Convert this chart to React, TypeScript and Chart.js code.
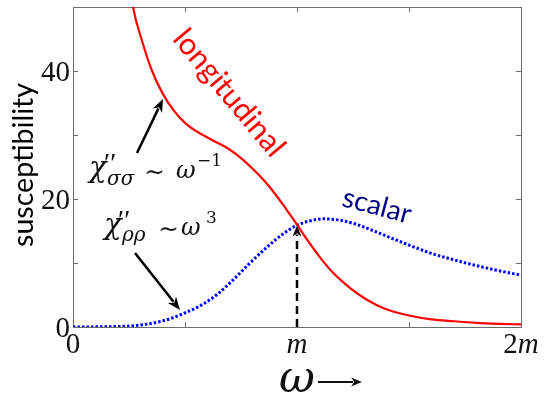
import React, { useEffect, useRef } from "react";
import { Chart, registerables } from "chart.js";
Chart.register(...registerables);

// ---- data (ω in units of m) ----
const longOmega = [0.22, 0.268, 0.31, 0.353, 0.4, 0.45, 0.5, 0.55, 0.6, 0.65, 0.7, 0.75, 0.8, 0.85, 0.9, 0.95, 1.0, 1.05, 1.1, 1.16, 1.24, 1.31, 1.39, 1.5, 1.6, 1.7, 1.8, 1.9, 2.0];
const longValues = [62, 50, 44.5, 40, 36.5, 33.8, 31.9, 30.6, 29.6, 28.7, 27.7, 26.4, 24.8, 23.0, 20.9, 18.5, 16.0, 13.4, 11.0, 8.5, 6.0, 4.3, 2.9, 1.8, 1.2, 0.9, 0.65, 0.5, 0.4];

const scalarOmega = [0, 0.1, 0.2, 0.27, 0.33, 0.4, 0.45, 0.5, 0.567, 0.64, 0.71, 0.79, 0.87, 0.94, 1.0, 1.06, 1.12, 1.19, 1.25, 1.3, 1.4, 1.5, 1.6, 1.7, 1.8, 1.9, 2.0];
const scalarValues = [0, 0.02, 0.08, 0.2, 0.45, 0.95, 1.5, 2.2, 3.3, 5.0, 7.2, 10.0, 12.6, 14.6, 15.9, 16.6, 16.9, 16.7, 16.2, 15.6, 14.2, 12.8, 11.5, 10.5, 9.6, 8.8, 8.1];

const xTickValues = [0, 0.5, 1, 1.5, 2];
const xTickLabels = ["0", "", "m", "", "2m"];
const yTickValues = [0, 10, 20, 30, 40, 50];
const yTickLabels = ["0", "", "20", "", "40", ""];
const crossingOmega = 1.0;
const crossingValue = 16.0;

const SERIF = '"Liberation Serif", "DejaVu Serif", serif';
const GREEK = '"DejaVu Serif", serif';
const SANS = 'Lato, "Open Sans", sans-serif';

function arrow(ctx: CanvasRenderingContext2D, x1: number, y1: number, x2: number, y2: number, w: number, head: number, color: string, dash?: number[]) {
  const a = Math.atan2(y2 - y1, x2 - x1);
  ctx.save();
  ctx.strokeStyle = color;
  ctx.fillStyle = color;
  ctx.lineWidth = w;
  if (dash) ctx.setLineDash(dash);
  ctx.beginPath();
  ctx.moveTo(x1, y1);
  ctx.lineTo(x2 - Math.cos(a) * head * 0.8, y2 - Math.sin(a) * head * 0.8);
  ctx.stroke();
  ctx.setLineDash([]);
  ctx.beginPath();
  ctx.moveTo(x2, y2);
  ctx.lineTo(x2 - Math.cos(a) * head + Math.sin(a) * head * 0.4, y2 - Math.sin(a) * head - Math.cos(a) * head * 0.4);
  ctx.lineTo(x2 - Math.cos(a) * head * 0.7, y2 - Math.sin(a) * head * 0.7);
  ctx.lineTo(x2 - Math.cos(a) * head - Math.sin(a) * head * 0.4, y2 - Math.sin(a) * head + Math.cos(a) * head * 0.4);
  ctx.closePath();
  ctx.fill();
  ctx.restore();
}

function txt(ctx: CanvasRenderingContext2D, s: string, x: number, y: number, size: number, italic: boolean, align: CanvasTextAlign = "left", family: string = SERIF) {
  ctx.font = `${italic ? "italic " : ""}${size}px ${family}`;
  ctx.textAlign = align;
  ctx.textBaseline = "alphabetic";
  ctx.fillText(s, x, y);
}

function fittedSans(ctx: CanvasRenderingContext2D, s: string, width: number) {
  ctx.font = `100px ${SANS}`;
  const w = ctx.measureText(s).width;
  const size = (100 * width) / w;
  ctx.font = `${size}px ${SANS}`;
}

const decorPlugin = {
  id: "decor",
  beforeDatasetsDraw(chart: any) {
    const { ctx, chartArea: a } = chart;
    const xs = chart.scales.x;
    const ys = chart.scales.y;
    ctx.save();
    ctx.strokeStyle = "#6b6b6b";
    ctx.lineWidth = 1;
    ctx.strokeRect(Math.round(a.left) + 0.5, Math.round(a.top) + 0.5, Math.round(a.right - a.left), Math.round(a.bottom - a.top));
    ctx.beginPath();
    const tl = 5;
    xTickValues.forEach((v) => {
      const px = Math.round(xs.getPixelForValue(v)) + 0.5;
      ctx.moveTo(px, a.bottom);
      ctx.lineTo(px, a.bottom - tl);
      ctx.moveTo(px, a.top);
      ctx.lineTo(px, a.top + tl);
    });
    yTickValues.forEach((v) => {
      const py = Math.round(ys.getPixelForValue(v)) + 0.5;
      ctx.moveTo(a.left, py);
      ctx.lineTo(a.left + tl, py);
      ctx.moveTo(a.right, py);
      ctx.lineTo(a.right - tl, py);
    });
    ctx.stroke();
    ctx.restore();
  },
  afterDatasetsDraw(chart: any) {
    const { ctx, chartArea: a } = chart;
    const xs = chart.scales.x;
    const ys = chart.scales.y;
    ctx.save();
    ctx.fillStyle = "#111";
    // y tick labels
    yTickValues.forEach((v, i) => {
      if (!yTickLabels[i]) return;
      txt(ctx, yTickLabels[i], a.left - 3, ys.getPixelForValue(v) + 10, 29, false, "right");
    });
    // x tick labels
    xTickValues.forEach((v, i) => {
      const lab = xTickLabels[i];
      if (!lab) return;
      const cx = xs.getPixelForValue(v);
      const by = a.bottom + 26;
      if (lab === "m") {
        txt(ctx, "m", cx, by, 29, true, "center");
      } else if (lab === "2m") {
        ctx.font = `29px ${SERIF}`;
        const w2 = ctx.measureText("2").width;
        ctx.font = `italic 29px ${SERIF}`;
        const wm = ctx.measureText("m").width;
        const start = cx - (w2 + wm) / 2;
        txt(ctx, "2", start, by, 29, false);
        txt(ctx, "m", start + w2, by, 29, true);
      } else {
        txt(ctx, lab, cx, by, 29, false, "center");
      }
    });
    // x axis title ω →
    txt(ctx, "ω", 279, 392, 44, true, "left", GREEK);
    arrow(ctx, 318, 382, 362, 382, 2, 11, "#111");
    // y axis title
    ctx.save();
    ctx.translate(33, 165);
    ctx.rotate(-Math.PI / 2);
    fittedSans(ctx, "susceptibility", 164);
    ctx.textAlign = "center";
    ctx.textBaseline = "alphabetic";
    ctx.fillStyle = "#000";
    ctx.fillText("susceptibility", 0, 0);
    ctx.restore();
    // series labels
    ctx.save();
    ctx.translate(229, 93);
    ctx.rotate((50 * Math.PI) / 180);
    fittedSans(ctx, "longitudinal", 156);
    ctx.textAlign = "center";
    ctx.textBaseline = "middle";
    ctx.fillStyle = "#ff0000";
    ctx.fillText("longitudinal", 0, 0);
    ctx.restore();
    ctx.save();
    ctx.translate(377, 206);
    ctx.rotate((15 * Math.PI) / 180);
    fittedSans(ctx, "scalar", 70);
    ctx.textAlign = "center";
    ctx.textBaseline = "middle";
    ctx.fillStyle = "#000080";
    ctx.fillText("scalar", 0, 0);
    ctx.restore();
    // formulas
    ctx.fillStyle = "#111";
    txt(ctx, "χ", 89, 177, 29, true, "left", GREEK);
    txt(ctx, "′′", 104, 172, 28, false, "left", SERIF);
    txt(ctx, "σσ", 107, 185, 20, true, "left", GREEK);
    txt(ctx, "∼", 144, 180, 25, false, "left", GREEK);
    txt(ctx, "ω", 176, 178, 24, true, "left", GREEK);
    txt(ctx, "−1", 197, 166, 17, false, "left", GREEK);

    txt(ctx, "χ", 104, 234, 29, true, "left", GREEK);
    txt(ctx, "′′", 118, 229, 28, false, "left", SERIF);
    txt(ctx, "ρρ", 122, 241, 20, true, "left", GREEK);
    txt(ctx, "∼", 158, 237, 25, false, "left", GREEK);
    txt(ctx, "ω", 181, 235, 24, true, "left", GREEK);
    txt(ctx, "3", 206, 223, 17, false, "left", GREEK);
    // arrows
    arrow(ctx, 137, 153, 163, 99, 2.5, 13, "#000");
    arrow(ctx, 135, 253, 180, 310, 2.5, 13, "#000");
    // dashed arrow at the crossing
    const cx = xs.getPixelForValue(crossingOmega);
    arrow(ctx, cx, a.bottom, cx, ys.getPixelForValue(crossingValue) + 1, 2.5, 11, "#000", [8, 5]);
    ctx.restore();
  },
};

export default function App() {
  const ref = useRef<HTMLCanvasElement | null>(null);
  useEffect(() => {
    if (!ref.current) return;
    const chart = new Chart(ref.current, {
      type: "line",
      data: {
        datasets: [
          {
            label: "longitudinal",
            data: longOmega.map((x, i) => ({ x, y: longValues[i] })),
            borderColor: "#ff0000",
            borderWidth: 2.2,
            pointRadius: 0,
            cubicInterpolationMode: "monotone",
            fill: false,
          },
          {
            label: "scalar",
            data: scalarOmega.map((x, i) => ({ x, y: scalarValues[i] })),
            borderColor: "#0000ff",
            borderWidth: 3,
            borderDash: [2.5, 2],
            pointRadius: 0,
            cubicInterpolationMode: "monotone",
            fill: false,
          },
        ],
      },
      options: {
        animation: false,
        responsive: false,
        events: [],
        layout: { padding: { left: 73, top: 7, right: 28, bottom: 70 } },
        plugins: { legend: { display: false }, tooltip: { enabled: false } },
        scales: {
          x: { type: "linear", min: 0, max: 2, display: false },
          y: { type: "linear", min: 0, max: 50, display: false },
        },
      },
      plugins: [decorPlugin],
    } as any);
    return () => chart.destroy();
  }, []);
  return (
    <div style={{ position: "fixed", left: 0, top: 0, width: 549, height: 397, background: "#fff" }}>
      <canvas ref={ref} width={549} height={397} style={{ display: "block" }} />
    </div>
  );
}
